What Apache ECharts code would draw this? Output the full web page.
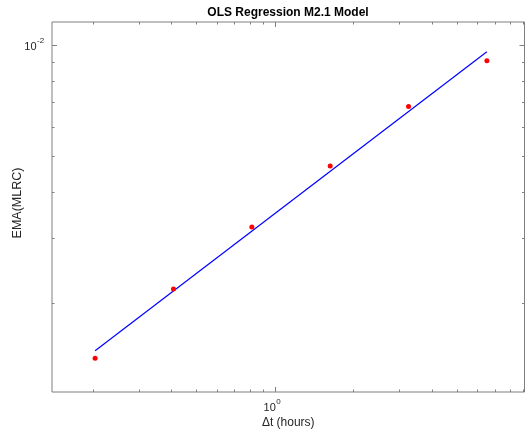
<!DOCTYPE html>
<html>
<head>
<meta charset="utf-8">
<script src="https://cdn.jsdelivr.net/npm/echarts@6/dist/echarts.min.js"></script>
<style>
    html, body { margin: 0; padding: 0; background: #fff; }
    #chart { width: 525px; height: 432px; }
</style>
</head>
<body>
<div id="chart"></div>
<script>
// data
const dtHours = [0.2031, 0.4063, 0.8125, 1.625, 3.25, 6.5]
const emaMlrc = [0.001419, 0.002188, 0.003218, 0.004710, 0.006824, 0.009085]

// OLS fit line end points
const fitX = [0.2031, 6.5]
const fitY = [0.001488, 0.00961]

// ticks (MATLAB style: minor ticks at 2..9, labels only on decades)
const xTickValues = [0.2, 0.3, 0.4, 0.5, 0.6, 0.7, 0.8, 0.9, 1, 2, 3, 4, 5, 6, 7, 8, 9]
const xMajorTicks = [1]
const xLabelValues = [1]
const xLabelBase = ['10']
const xLabelExp = ['0']

const yTickValues = [0.002, 0.003, 0.004, 0.005, 0.006, 0.007, 0.008, 0.009, 0.01]
const yMajorTicks = [0.01]
const yLabelValues = [0.01]
const yLabelBase = ['10']
const yLabelExp = ['-2']

// axis limits
const X_MIN = 0.1387
const X_MAX = 9.066
const Y_MIN = 0.00115
const Y_MAX = 0.011563

const FONT = '"Liberation Sans", Arial, Helvetica, sans-serif'
const AXIS_COLOR = '#7f7f7f'
const TEXT_COLOR = '#262626'

const chart = echarts.init(document.getElementById('chart'))

function crisp(v) {
    return Math.round(v - 0.5) + 0.5
}

// ticks on both sides of the box, pointing inward
function tickSeries(values, majors, dim) {
    return {
        type: 'custom',
        silent: true,
        clip: false,
        z: 5,
        data: values.map(v => dim === 'x' ? [v, Y_MIN] : [X_MIN, v]),
        renderItem(params, api) {
            const cs = params.coordSys
            const v = api.value(dim === 'x' ? 0 : 1)
            const p = api.coord([api.value(0), api.value(1)])
            const len = majors.includes(v) ? 5 : 2.5
            const style = { stroke: AXIS_COLOR, lineWidth: 1 }
            if (dim === 'x') {
                const x = crisp(p[0])
                const bottom = cs.y + cs.height
                return {
                    type: 'group',
                    children: [
                        { type: 'line', shape: { x1: x, y1: bottom, x2: x, y2: bottom - len }, style },
                        { type: 'line', shape: { x1: x, y1: cs.y, x2: x, y2: cs.y + len }, style }
                    ]
                }
            }
            const y = crisp(p[1])
            const right = cs.x + cs.width
            return {
                type: 'group',
                children: [
                    { type: 'line', shape: { x1: cs.x, y1: y, x2: cs.x + len, y2: y }, style },
                    { type: 'line', shape: { x1: right, y1: y, x2: right - len, y2: y }, style }
                ]
            }
        }
    }
}

// "10" with a superscript exponent
function labelSeries(values, bases, exps, dim) {
    return {
        type: 'custom',
        silent: true,
        clip: false,
        z: 5,
        data: values.map((v, i) => dim === 'x' ? [v, Y_MIN, i] : [X_MIN, v, i]),
        renderItem(params, api) {
            const cs = params.coordSys
            const i = api.value(2)
            const p = api.coord([api.value(0), api.value(1)])
            let bx, by, sx, sy
            if (dim === 'x') {
                bx = p[0] + 0.5
                by = cs.y + cs.height + 16
                sx = p[0] + 1
                sy = cs.y + cs.height + 10
            } else {
                bx = cs.x - 15.5
                by = p[1] + 1.5
                sx = cs.x - 15
                sy = p[1] - 4.5
            }
            return {
                type: 'group',
                children: [
                    {
                        type: 'text', x: bx, y: by,
                        style: { text: bases[i], fontSize: 11, fontFamily: FONT, fill: TEXT_COLOR, align: 'right', verticalAlign: 'middle' }
                    },
                    {
                        type: 'text', x: sx, y: sy,
                        style: { text: exps[i], fontSize: 8, fontFamily: FONT, fill: TEXT_COLOR, align: 'left', verticalAlign: 'middle' }
                    }
                ]
            }
        }
    }
}

const option = {
    animation: false,
    backgroundColor: '#fff',
    title: {
        text: 'OLS Regression M2.1 Model',
        left: 288,
        top: 7,
        padding: 0,
        textAlign: 'center',
        textStyle: { fontSize: 12, fontWeight: 'bold', color: '#000', fontFamily: FONT }
    },
    grid: {
        left: 52,
        top: 22,
        right: 0.5,
        bottom: 40,
        show: true,
        borderColor: AXIS_COLOR,
        borderWidth: 1,
        outerBoundsMode: 'none'
    },
    xAxis: {
        type: 'log',
        logBase: 10,
        min: X_MIN,
        max: X_MAX,
        name: 'Δt (hours)',
        nameLocation: 'middle',
        nameGap: 25,
        nameTextStyle: { fontSize: 12, color: TEXT_COLOR, fontFamily: FONT },
        axisLine: { show: false },
        axisTick: { show: false },
        axisLabel: { show: false },
        splitLine: { show: false }
    },
    yAxis: {
        type: 'log',
        logBase: 10,
        min: Y_MIN,
        max: Y_MAX,
        name: 'EMA(MLRC)',
        nameLocation: 'middle',
        nameGap: 28,
        nameTextStyle: { fontSize: 12.5, color: TEXT_COLOR, fontFamily: FONT, padding: [0, 0, 0, 8] },
        axisLine: { show: false },
        axisTick: { show: false },
        axisLabel: { show: false },
        splitLine: { show: false }
    },
    series: [
        {
            name: 'data',
            type: 'scatter',
            symbol: 'circle',
            symbolSize: 5,
            itemStyle: { color: '#ff0000', opacity: 1 },
            data: dtHours.map((x, i) => [x, emaMlrc[i]]),
            z: 3
        },
        {
            name: 'fit',
            type: 'line',
            showSymbol: false,
            lineStyle: { color: '#0000ff', width: 1.2 },
            data: fitX.map((x, i) => [x, fitY[i]]),
            z: 2
        },
        tickSeries(xTickValues, xMajorTicks, 'x'),
        tickSeries(yTickValues, yMajorTicks, 'y'),
        labelSeries(xLabelValues, xLabelBase, xLabelExp, 'x'),
        labelSeries(yLabelValues, yLabelBase, yLabelExp, 'y')
    ]
}

chart.setOption(option)
</script>
</body>
</html>
